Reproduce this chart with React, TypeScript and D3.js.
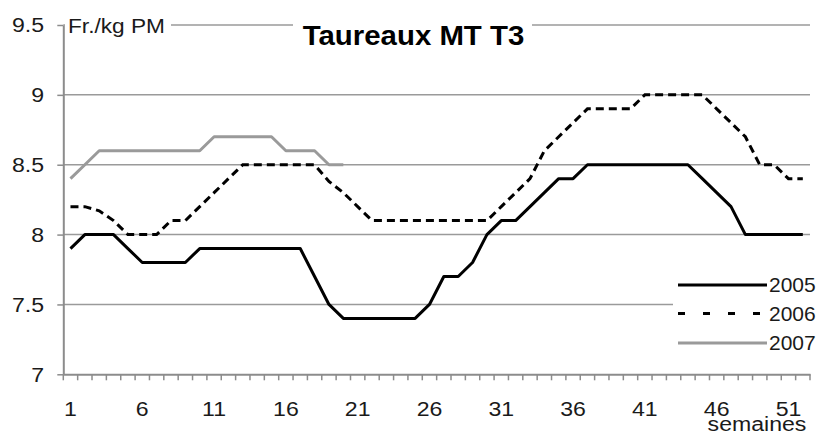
import React, { useEffect, useRef } from "react";
import * as d3 from "d3";

// weeks 1..52 (categories)
const weeks = d3.range(1, 53);
const xTickLabels = [1, 6, 11, 16, 21, 26, 31, 36, 41, 46, 51];
const yTicks = [7, 7.5, 8, 8.5, 9, 9.5];

const y2005 = [
  7.9, 8.0, 8.0, 8.0, 7.9, 7.8, 7.8, 7.8, 7.8, 7.9,
  7.9, 7.9, 7.9, 7.9, 7.9, 7.9, 7.9, 7.7, 7.5, 7.4,
  7.4, 7.4, 7.4, 7.4, 7.4, 7.5, 7.7, 7.7, 7.8, 8.0,
  8.1, 8.1, 8.2, 8.3, 8.4, 8.4, 8.5, 8.5, 8.5, 8.5,
  8.5, 8.5, 8.5, 8.5, 8.4, 8.3, 8.2, 8.0, 8.0, 8.0,
  8.0, 8.0,
];
const y2006 = [
  8.2, 8.2, 8.17, 8.1, 8.0, 8.0, 8.0, 8.1, 8.1, 8.2,
  8.3, 8.4, 8.5, 8.5, 8.5, 8.5, 8.5, 8.5, 8.38, 8.3,
  8.2, 8.1, 8.1, 8.1, 8.1, 8.1, 8.1, 8.1, 8.1, 8.1,
  8.2, 8.3, 8.4, 8.6, 8.7, 8.8, 8.9, 8.9, 8.9, 8.9,
  9.0, 9.0, 9.0, 9.0, 9.0, 8.9, 8.8, 8.7, 8.5, 8.5,
  8.4, 8.4,
];
const y2007 = [
  8.4, 8.5, 8.6, 8.6, 8.6, 8.6, 8.6, 8.6, 8.6, 8.6,
  8.7, 8.7, 8.7, 8.7, 8.7, 8.6, 8.6, 8.6, 8.5, 8.5,
];

const seriesNames = ["2005", "2006", "2007"];

const font = "'Liberation Sans', Arial, sans-serif";
const ink = "#1a1a1a";
const axisGrey = "#8c8c8c";

export default function App() {
  const ref = useRef<SVGSVGElement>(null);

  useEffect(() => {
    const svg = d3.select(ref.current);
    svg.selectAll("*").remove();

    const left = 63.3, right = 810, top = 25, bottom = 374.3;

    const x = d3.scaleBand<number>().domain(weeks).range([left, right]);
    const y = d3.scaleLinear().domain([7, 9.5]).range([bottom, top]);
    const cx = (w: number) => (x(w) as number) + x.bandwidth() / 2;

    // gridlines
    svg.append("g")
      .selectAll("line")
      .data(yTicks.slice(1))
      .enter()
      .append("line")
      .attr("x1", left)
      .attr("x2", right)
      .attr("y1", (d) => y(d))
      .attr("y2", (d) => y(d))
      .attr("stroke", "#9a9a9a")
      .attr("stroke-width", 1.5);

    // white boxes (title, unit, legend) over the grid
    svg.append("rect").attr("x", 293).attr("y", 13).attr("width", 239).attr("height", 24).attr("fill", "#fff");
    svg.append("rect").attr("x", 65).attr("y", 15).attr("width", 106).attr("height", 20).attr("fill", "#fff");
    svg.append("rect").attr("x", 673).attr("y", 271).attr("width", 143).attr("height", 86).attr("fill", "#fff");

    // y axis
    const ya = svg.append("g")
      .attr("transform", `translate(${left},0)`)
      .call(
        d3.axisLeft(y)
          .tickValues(yTicks)
          .tickSize(6)
          .tickSizeOuter(0)
          .tickFormat((d) => String(d))
      );
    ya.select(".domain").attr("stroke", axisGrey).attr("stroke-width", 2);
    ya.selectAll(".tick line").attr("stroke", axisGrey).attr("stroke-width", 1.5);
    ya.selectAll(".tick text")
      .attr("x", -17.5)
      .attr("transform", "scale(1.1,1)")
      .attr("font-family", font)
      .attr("font-size", 21)
      .attr("fill", ink);

    // x axis (labels)
    const xa = svg.append("g")
      .attr("transform", `translate(0,${bottom})`)
      .call(d3.axisBottom(x).tickValues(xTickLabels).tickSize(0).tickSizeOuter(0).tickPadding(27));
    xa.select(".domain").attr("stroke", axisGrey).attr("stroke-width", 2);
    xa.selectAll(".tick text")
      .attr("transform", "scale(1.1,1)")
      .attr("font-family", font)
      .attr("font-size", 21)
      .attr("fill", ink);

    // category boundary ticks
    svg.append("g")
      .selectAll("line")
      .data([...weeks.map((w) => x(w) as number), right])
      .enter()
      .append("line")
      .attr("x1", (d) => d)
      .attr("x2", (d) => d)
      .attr("y1", bottom)
      .attr("y2", bottom + 6)
      .attr("stroke", axisGrey)
      .attr("stroke-width", 1.5);

    // series
    const line = d3.line<number>()
      .x((d, i) => cx(weeks[i]))
      .y((d) => y(d));

    svg.append("path").datum(y2007).attr("d", line)
      .attr("fill", "none").attr("stroke", "#9a9a9a").attr("stroke-width", 3).attr("stroke-linejoin", "round");
    svg.append("path").datum(y2006).attr("d", line)
      .attr("fill", "none").attr("stroke", "#000").attr("stroke-width", 3).attr("stroke-dasharray", "8,5");
    svg.append("path").datum(y2005).attr("d", line)
      .attr("fill", "none").attr("stroke", "#000").attr("stroke-width", 3).attr("stroke-linejoin", "round");

    // title + unit
    svg.append("text")
      .attr("transform", "translate(413.5,45) scale(1.05,1)")
      .attr("text-anchor", "middle")
      .attr("font-family", font)
      .attr("font-weight", "bold")
      .attr("font-size", 28)
      .attr("fill", "#000")
      .text("Taureaux MT T3");
    svg.append("text")
      .attr("transform", "translate(68,33) scale(1.08,1)")
      .attr("font-family", font)
      .attr("font-size", 21)
      .attr("fill", ink)
      .text("Fr./kg PM");
    svg.append("text")
      .attr("transform", "translate(757,431) scale(1.1,1)")
      .attr("text-anchor", "middle")
      .attr("font-family", font)
      .attr("font-size", 21)
      .attr("fill", ink)
      .text("semaines");

    // legend
    const legY = [285, 313.5, 343];
    const legStroke = ["#000", "#000", "#9a9a9a"];
    const legDash = [null, "7,18", null];
    const lg = svg.append("g");
    seriesNames.forEach((name, i) => {
      lg.append("line")
        .attr("x1", 678).attr("x2", 767)
        .attr("y1", legY[i]).attr("y2", legY[i])
        .attr("stroke", legStroke[i])
        .attr("stroke-width", 3)
        .attr("stroke-dasharray", legDash[i]);
      lg.append("text")
        .attr("transform", `translate(769,${legY[i]}) scale(1.05,1)`)
        .attr("dy", "0.35em")
        .attr("font-family", font)
        .attr("font-size", 20)
        .attr("fill", ink)
        .text(name);
    });
  }, []);

  return (
    <svg
      ref={ref}
      width={816}
      height={432}
      style={{ position: "absolute", left: 0, top: 0, background: "#fff" }}
    />
  );
}
